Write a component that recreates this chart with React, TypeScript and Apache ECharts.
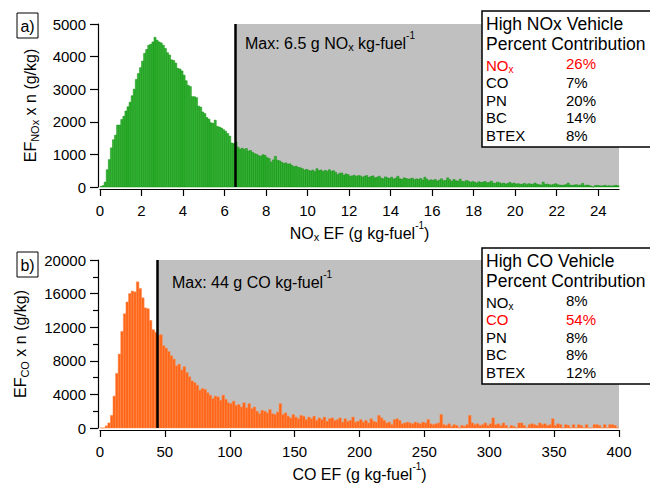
import React, { useEffect, useRef } from "react";
import * as echarts from "echarts";

// ---------- DATA ----------
// NOx EF histogram (bin width 0.1 g/kg-fuel, 0 .. 25)
const NOX_BIN = 0.1;
const NOX_VALUES = [
  15, 40, 150, 530, 840, 1200, 1450, 1590, 1900, 1900,
  2070, 2170, 2330, 2460, 2600, 2800, 3000, 3300, 3480, 3660,
  3860, 4100, 4220, 4350, 4380, 4450, 4590, 4500, 4450, 4420,
  4350, 4250, 4120, 4050, 3900, 3880, 3800, 3640, 3620, 3560,
  3430, 3260, 3120, 3080, 2770, 2770, 2740, 2480, 2450, 2300,
  2250, 2130, 2080, 1970, 1950, 2050, 1860, 1840, 1810, 1760,
  1710, 1640, 1560, 1350, 1330, 1380, 1220, 1160, 1190, 1150,
  1180, 1100, 1120, 1060, 1020, 1000, 960, 940, 990, 970,
  900, 870, 760, 830, 940, 820, 800, 760, 720, 740,
  700, 710, 660, 620, 640, 600, 590, 560, 520, 540,
  510, 490, 520, 470, 560, 500, 520, 470, 510, 480,
  530, 480, 500, 450, 380, 420, 430, 360, 400, 380,
  330, 340, 360, 320, 350, 340, 300, 330, 350, 290,
  320, 340, 280, 300, 330, 270, 250, 310, 280, 260,
  300, 240, 270, 330, 250, 230, 280, 260, 240, 250,
  270, 220, 250, 230, 260, 210, 300, 240, 190, 220,
  200, 230, 180, 210, 250, 190, 200, 280, 220, 170,
  230, 190, 180, 240, 170, 160, 200, 180, 140, 170,
  150, 120, 160, 140, 150, 170, 130, 140, 180, 120,
  110, 150, 130, 100, 120, 90, 110, 140, 100, 120,
  90, 100, 80, 90, 110, 70, 100, 90, 80, 120,
  90, 70, 60, 150, 80, 90, 70, 60, 80, 100,
  70, 60, 50, 60, 70, 120, 60, 50, 60, 70,
  50, 60, 110, 40, 60, 50, 30, 0, 40, 50,
  40, 30, 40, 50, 30, 40, 30, 40, 50, 40,
];

// CO EF histogram (bin width 2 g/kg-fuel, 0 .. 400)
const CO_BIN = 2;
const CO_VALUES = [
  0, 0, 250, 600, 1500, 3800, 6500, 8800, 11500, 13600,
  15000, 16000, 16300, 16200, 17400, 16600, 15500, 14300, 14200, 12800,
  11700, 11400, 11000, 11100, 9800, 9500, 9100, 8600, 8200, 7400,
  7600, 6900, 7300, 6600, 6100, 5600, 5400, 5100, 4500, 4700,
  4600, 4200, 3900, 3500, 3800, 3700, 3300, 3900, 3400, 3000,
  2900, 3200, 2700, 2800, 2500, 3000, 2400, 2900, 2300, 2500,
  2000, 1700, 2100, 2000, 1800, 2200, 1700, 1600, 1900, 2900,
  1600, 1800, 1400, 1200, 1600, 1300, 1100, 1500, 1400, 1000,
  1300, 1100, 1400, 900, 1200, 1000, 1300, 800, 1100, 1200,
  900, 1000, 1200, 700, 1100, 800, 900, 1300, 700, 800,
  1000, 700, 900, 600, 1100, 800, 700, 1500, 1200, 900,
  600, 700, 400, 1000, 1100, 900, 500, 600, 700, 600,
  500, 700, 600, 500, 700, 600, 1000, 500, 400, 500,
  600, 1600, 400, 300, 500, 200, 400, 300, 0, 300,
  200, 400, 1500, 600, 400, 500, 300, 400, 600, 300,
  500, 1200, 400, 500, 300, 600, 300, 0, 300, 200,
  0, 600, 600, 300, 0, 400, 500, 400, 300, 600,
  400, 500, 300, 400, 1100, 300, 500, 400, 0, 400,
  300, 0, 400, 0, 400, 300, 0, 400, 0, 0,
  400, 400, 300, 0, 400, 0, 400, 400, 300, 0,
];

const NOX_X_MAX = 25;
const NOX_Y_MAX = 5000;
const NOX_X_TICKS = [0, 2, 4, 6, 8, 10, 12, 14, 16, 18, 20, 22, 24];
const CO_X_MAX = 400;
const CO_Y_MAX = 20000;

const NOX_MAX_EF = 6.5;
const CO_MAX_EF = 44;

const NOX_LEGEND_NAMES = ["NOx", "CO", "PN", "BC", "BTEX"];
const NOX_LEGEND_PCTS = ["26%", "7%", "20%", "14%", "8%"];
const CO_LEGEND_NAMES = ["NOx", "CO", "PN", "BC", "BTEX"];
const CO_LEGEND_PCTS = ["8%", "54%", "8%", "8%", "12%"];

// ---------- STYLE ----------
const FONT = '"Liberation Sans", Arial, Helvetica, sans-serif';

const richSet = (size: number, color = "#000") => ({
  m: { fontSize: size, fontFamily: FONT, color, fill: color, lineHeight: size + 4 },
  s: { fontSize: Math.round(size * 0.68), fontFamily: FONT, color, fill: color, lineHeight: 10, verticalAlign: "bottom" },
  u: { fontSize: Math.round(size * 0.62), fontFamily: FONT, color, fill: color, lineHeight: 10, verticalAlign: "top" },
});

// taller line box so that superscripts sit higher
const richSup = (size: number, color = "#000") => ({
  m: { fontSize: size, fontFamily: FONT, color, fill: color, lineHeight: size + 10 },
  s: {
    fontSize: Math.round(size * 0.68), fontFamily: FONT, color, fill: color,
    lineHeight: 10, verticalAlign: "bottom", padding: [0, 0, 4, 0],
  },
  u: { fontSize: Math.round(size * 0.62), fontFamily: FONT, color, fill: color, lineHeight: 10, verticalAlign: "top" },
});

const histRender = (fill: string, stroke: string) => (params: any, api: any) => {
  const p0 = api.coord([api.value(0), api.value(2)]);
  const p1 = api.coord([api.value(1), 0]);
  return {
    type: "rect",
    shape: { x: p0[0], y: p0[1], width: p1[0] - p0[0], height: p1[1] - p0[1] },
    style: { fill, stroke, lineWidth: 0.5 },
  };
};

const legendElements = (
  top: number,
  title: string,
  names: string[],
  pcts: string[],
  highlight: string
) => {
  const els: any[] = [
    {
      type: "rect",
      z: 100,
      shape: { x: 482, y: top, width: 180, height: 136 },
      style: { fill: "#fff", stroke: "#000", lineWidth: 1.5 },
    },
    {
      type: "text",
      z: 101,
      x: 486,
      y: top + 13,
      style: { text: title, fontSize: 17.5, fontFamily: FONT, fill: "#000", verticalAlign: "middle" },
    },
    {
      type: "text",
      z: 101,
      x: 486,
      y: top + 32.5,
      style: { text: "Percent Contribution", fontSize: 17.5, fontFamily: FONT, fill: "#000", verticalAlign: "middle" },
    },
  ];
  const rowY = [52, 71.5, 89, 106.5, 124];
  names.forEach((n, i) => {
    const color = n === highlight ? "#ff0000" : "#000";
    const text = n === "NOx" ? "{m|NO}{s|x}" : `{m|${n}}`;
    els.push({
      type: "text",
      z: 101,
      x: 486,
      y: top + rowY[i] + (n === "NOx" ? 2 : 0),
      style: { text, rich: richSet(15, color), fill: color, verticalAlign: "middle" },
    });
    els.push({
      type: "text",
      z: 101,
      x: 566,
      y: top + rowY[i],
      style: { text: pcts[i], fontSize: 15, fontFamily: FONT, fill: color, verticalAlign: "middle" },
    });
  });
  return els;
};

const panelLabel = (top: number, t: string) => [
  {
    type: "rect",
    z: 100,
    shape: { x: 17, y: top, width: 21, height: 25 },
    style: { fill: "#fff", stroke: "#000", lineWidth: 1 },
  },
  {
    type: "text",
    z: 101,
    x: 27.5,
    y: top + 13,
    style: { text: t, fontSize: 16, fontFamily: FONT, fill: "#000", align: "center", verticalAlign: "middle" },
  },
];

const axisLineStyle = { color: "#000", width: 1.2 };

export default function App() {
  const ref = useRef<HTMLDivElement>(null);

  useEffect(() => {
    if (!ref.current) return;
    const chart = echarts.init(ref.current, undefined, { renderer: "svg" });

    const noxData = NOX_VALUES.map((v, i) => [+(i * NOX_BIN).toFixed(2), +((i + 1) * NOX_BIN).toFixed(2), v]);
    const coData = CO_VALUES.map((v, i) => [i * CO_BIN, (i + 1) * CO_BIN, v]);

    const option: any = {
      animation: false,
      backgroundColor: "#fff",
      textStyle: { fontFamily: FONT },
      grid: [
        { left: 100, top: 24, width: 519, height: 163 },
        { left: 100, top: 260, width: 519, height: 168 },
      ],
      xAxis: [
        {
          gridIndex: 0,
          type: "value",
          min: 0,
          max: NOX_X_MAX,
          interval: 2,
          offset: 2,
          axisLine: { show: true, onZero: false, lineStyle: axisLineStyle },
          axisTick: { show: true, length: 7, customValues: NOX_X_TICKS, lineStyle: axisLineStyle },
          axisLabel: { customValues: NOX_X_TICKS, fontSize: 15, color: "#000", margin: 14, fontFamily: FONT },
          splitLine: { show: false },
          name: "{m|NO}{s|x}{m| EF (g kg-fuel}{u|-1}{m|)}",
          nameLocation: "middle",
          nameGap: 31,
          nameTextStyle: { rich: richSup(16) },
        },
        {
          gridIndex: 1,
          type: "value",
          min: 0,
          max: CO_X_MAX,
          interval: 50,
          offset: 2,
          axisLine: { show: true, onZero: false, lineStyle: axisLineStyle },
          axisTick: { show: true, length: 7, lineStyle: axisLineStyle },
          axisLabel: { fontSize: 15, color: "#000", margin: 14, fontFamily: FONT },
          splitLine: { show: false },
          name: "{m|CO EF (g kg-fuel}{u|-1}{m|)}",
          nameLocation: "middle",
          nameGap: 31,
          nameTextStyle: { rich: richSup(16) },
        },
      ],
      yAxis: [
        {
          gridIndex: 0,
          type: "value",
          min: 0,
          max: NOX_Y_MAX,
          interval: 1000,
          offset: 2,
          axisLine: { show: true, onZero: false, lineStyle: axisLineStyle },
          axisTick: { show: true, length: 8, lineStyle: axisLineStyle },
          axisLabel: { fontSize: 15, color: "#000", margin: 12, fontFamily: FONT, formatter: (v: number) => String(v) },
          splitLine: { show: false },
          name: "{m|EF}{s|NO}{s|x}{m| x n (g/kg)}",
          nameLocation: "middle",
          nameRotate: 90,
          nameGap: 58,
          nameTextStyle: { rich: richSet(16) },
        },
        {
          gridIndex: 1,
          type: "value",
          min: 0,
          max: CO_Y_MAX,
          interval: 4000,
          offset: 2,
          axisLine: { show: true, onZero: false, lineStyle: axisLineStyle },
          axisTick: { show: true, length: 8, lineStyle: axisLineStyle },
          minorTick: { show: true, splitNumber: 2, length: 5, lineStyle: axisLineStyle },
          axisLabel: { fontSize: 15, color: "#000", margin: 12, fontFamily: FONT, formatter: (v: number) => String(v) },
          splitLine: { show: false },
          name: "{m|EF}{s|CO}{m| x n (g/kg)}",
          nameLocation: "middle",
          nameRotate: 90,
          nameGap: 68,
          nameTextStyle: { rich: richSet(16) },
        },
      ],
      series: [
        {
          type: "line",
          xAxisIndex: 0,
          yAxisIndex: 0,
          data: [],
          z: 1,
          silent: true,
          markArea: {
            silent: true,
            itemStyle: { color: "#c0c0c0" },
            data: [[{ xAxis: NOX_MAX_EF, yAxis: 0 }, { xAxis: NOX_X_MAX, yAxis: NOX_Y_MAX }]],
          },
        },
        {
          type: "custom",
          name: "NOx",
          xAxisIndex: 0,
          yAxisIndex: 0,
          z: 2,
          renderItem: histRender("#35b335", "#0b8f0b"),
          encode: { x: [0, 1], y: 2 },
          data: noxData,
        },
        {
          type: "line",
          xAxisIndex: 0,
          yAxisIndex: 0,
          data: [],
          z: 3,
          silent: true,
          markLine: {
            silent: true,
            symbol: "none",
            label: { show: false },
            lineStyle: { color: "#000", width: 2.5, type: "solid" },
            data: [[{ coord: [NOX_MAX_EF, 0] }, { coord: [NOX_MAX_EF, NOX_Y_MAX] }]],
          },
        },
        {
          type: "line",
          xAxisIndex: 1,
          yAxisIndex: 1,
          data: [],
          z: 1,
          silent: true,
          markArea: {
            silent: true,
            itemStyle: { color: "#c0c0c0" },
            data: [[{ xAxis: CO_MAX_EF, yAxis: 0 }, { xAxis: CO_X_MAX, yAxis: CO_Y_MAX }]],
          },
        },
        {
          type: "custom",
          name: "CO",
          xAxisIndex: 1,
          yAxisIndex: 1,
          z: 2,
          renderItem: histRender("#ff6619", "#ff8a4a"),
          encode: { x: [0, 1], y: 2 },
          data: coData,
        },
        {
          type: "line",
          xAxisIndex: 1,
          yAxisIndex: 1,
          data: [],
          z: 3,
          silent: true,
          markLine: {
            silent: true,
            symbol: "none",
            label: { show: false },
            lineStyle: { color: "#000", width: 2.5, type: "solid" },
            data: [[{ coord: [CO_MAX_EF, 0] }, { coord: [CO_MAX_EF, CO_Y_MAX] }]],
          },
        },
      ],
      graphic: {
        elements: [
          ...panelLabel(13, "a)"),
          ...panelLabel(252, "b)"),
          {
            type: "text",
            z: 101,
            x: 245,
            y: 43,
            style: {
              text: `{m|Max: ${NOX_MAX_EF} g NO}{s|x}{m| kg-fuel}{u|-1}`,
              rich: richSup(16),
              verticalAlign: "middle",
            },
          },
          {
            type: "text",
            z: 101,
            x: 172,
            y: 282,
            style: {
              text: `{m|Max: ${CO_MAX_EF} g CO kg-fuel}{u|-1}`,
              rich: richSup(16),
              verticalAlign: "middle",
            },
          },
          ...legendElements(11, "High NOx Vehicle", NOX_LEGEND_NAMES, NOX_LEGEND_PCTS, "NOx"),
          ...legendElements(248, "High CO Vehicle", CO_LEGEND_NAMES, CO_LEGEND_PCTS, "CO"),
        ],
      },
    };

    chart.setOption(option);
    return () => chart.dispose();
  }, []);

  return <div ref={ref} style={{ width: 650, height: 485, position: "absolute", left: 0, top: 0 }} />;
}
